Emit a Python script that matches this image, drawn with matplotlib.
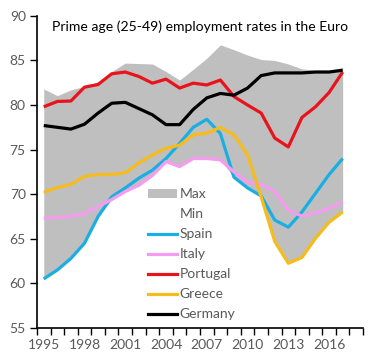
import numpy as np
import matplotlib
matplotlib.use("Agg")
from matplotlib import pyplot as plt
from matplotlib.patches import Patch
from matplotlib.lines import Line2D

years = list(range(1995, 2018))

# highest rate among the countries (top of the grey band)
max_rate = [81.8, 81.05, 81.7, 82.1, 82.6, 83.75, 84.7, 84.65, 84.6, 83.75, 82.8, 84.0,
            85.25, 86.75, 86.2, 85.6, 85.1, 85.0, 84.6, 84.05, 83.9, 83.9, 84.2]
spain = [60.5, 61.5, 62.8, 64.5, 67.5, 69.7, 70.7, 71.8, 72.7, 74.0, 75.7, 77.5,
         78.4, 76.8, 71.9, 70.7, 69.8, 67.1, 66.3, 68.0, 70.1, 72.2, 74.0]
italy = [67.3, 67.4, 67.55, 67.8, 68.6, 69.4, 70.3, 71.0, 72.1, 73.65, 73.1, 74.0,
         74.0, 73.85, 72.5, 71.3, 71.1, 70.3, 68.2, 67.55, 67.9, 68.4, 69.1]
portugal = [79.8, 80.4, 80.45, 82.0, 82.3, 83.5, 83.7, 83.2, 82.45, 82.9, 81.9, 82.45,
            82.25, 82.8, 80.95, 80.0, 79.1, 76.3, 75.3, 78.6, 79.8, 81.4, 83.7]
greece = [70.2, 70.75, 71.1, 72.0, 72.2, 72.2, 72.4, 73.5, 74.4, 75.15, 75.5, 76.65,
          76.85, 77.5, 76.65, 74.4, 69.7, 64.7, 62.25, 62.9, 65.05, 66.85, 68.0]
germany = [77.7, 77.5, 77.3, 77.85, 79.1, 80.2, 80.3, 79.6, 78.9, 77.8, 77.8, 79.5,
           80.8, 81.3, 81.1, 81.9, 83.3, 83.6, 83.6, 83.6, 83.7, 83.7, 83.9]

series = [("Spain", spain, "#1AAEE3"),
          ("Italy", italy, "#F59CF0"),
          ("Portugal", portugal, "#E8141C"),
          ("Greece", greece, "#F6BC1C"),
          ("Germany", germany, "#000000")]

min_rate = np.min([s[1] for s in series], axis=0)

plt.rcParams['font.family'] = ['Lato', 'DejaVu Sans']
grey_txt = "#595959"

fig = plt.figure(figsize=(3.85, 3.6), dpi=100)
ax = fig.add_axes([0.096, 0.089, 0.847, 0.867])

ax.fill_between(years, min_rate, max_rate, color="#BFBFBF", lw=0)
for nom, val, c in series:
    ax.plot(years, val, color=c, lw=2.3, solid_capstyle="butt")

ax.set_xlim(1994.5, 2018.5)
ax.set_ylim(55, 90)
ax.set_yticks(range(55, 91, 5))
ax.set_xticks(np.arange(1994.5, 2019, 1))
ax.set_xticklabels([])
ax.set_xticks(range(1995, 2018, 3), minor=True)
ax.set_xticklabels([str(y) for y in range(1995, 2018, 3)], minor=True)
ax.tick_params(axis="x", which="major", direction="out", length=5, width=1, color="black")
ax.tick_params(axis="x", which="minor", length=0, pad=8, labelsize=10, labelcolor=grey_txt)
ax.tick_params(axis="y", direction="out", length=5, width=1, labelsize=10, labelcolor=grey_txt, pad=3)
for s in ["top", "right"]:
    ax.spines[s].set_visible(False)
for s in ["left", "bottom"]:
    ax.spines[s].set_linewidth(1.2)

ax.text(0.5, 0.965, "Prime age (25-49) employment rates in the Euro",
        transform=ax.transAxes, ha="center", va="center", fontsize=10.1, color="black")

handles = [Patch(facecolor="#BFBFBF", edgecolor="none"),
           Line2D([], [], color="none")]
handles += [Line2D([], [], color=c, lw=2.3) for nom, val, c in series]
labels = ["Max", "Min"] + [s[0] for s in series]
leg = ax.legend(handles, labels, loc="upper left", bbox_to_anchor=(0.34, 0.448),
                frameon=False, fontsize=10, labelcolor=grey_txt,
                handlelength=2.1, handletextpad=0.2, labelspacing=0.58,
                borderpad=0, borderaxespad=0, handleheight=0.6)

fig.savefig("out.png", dpi=100)
